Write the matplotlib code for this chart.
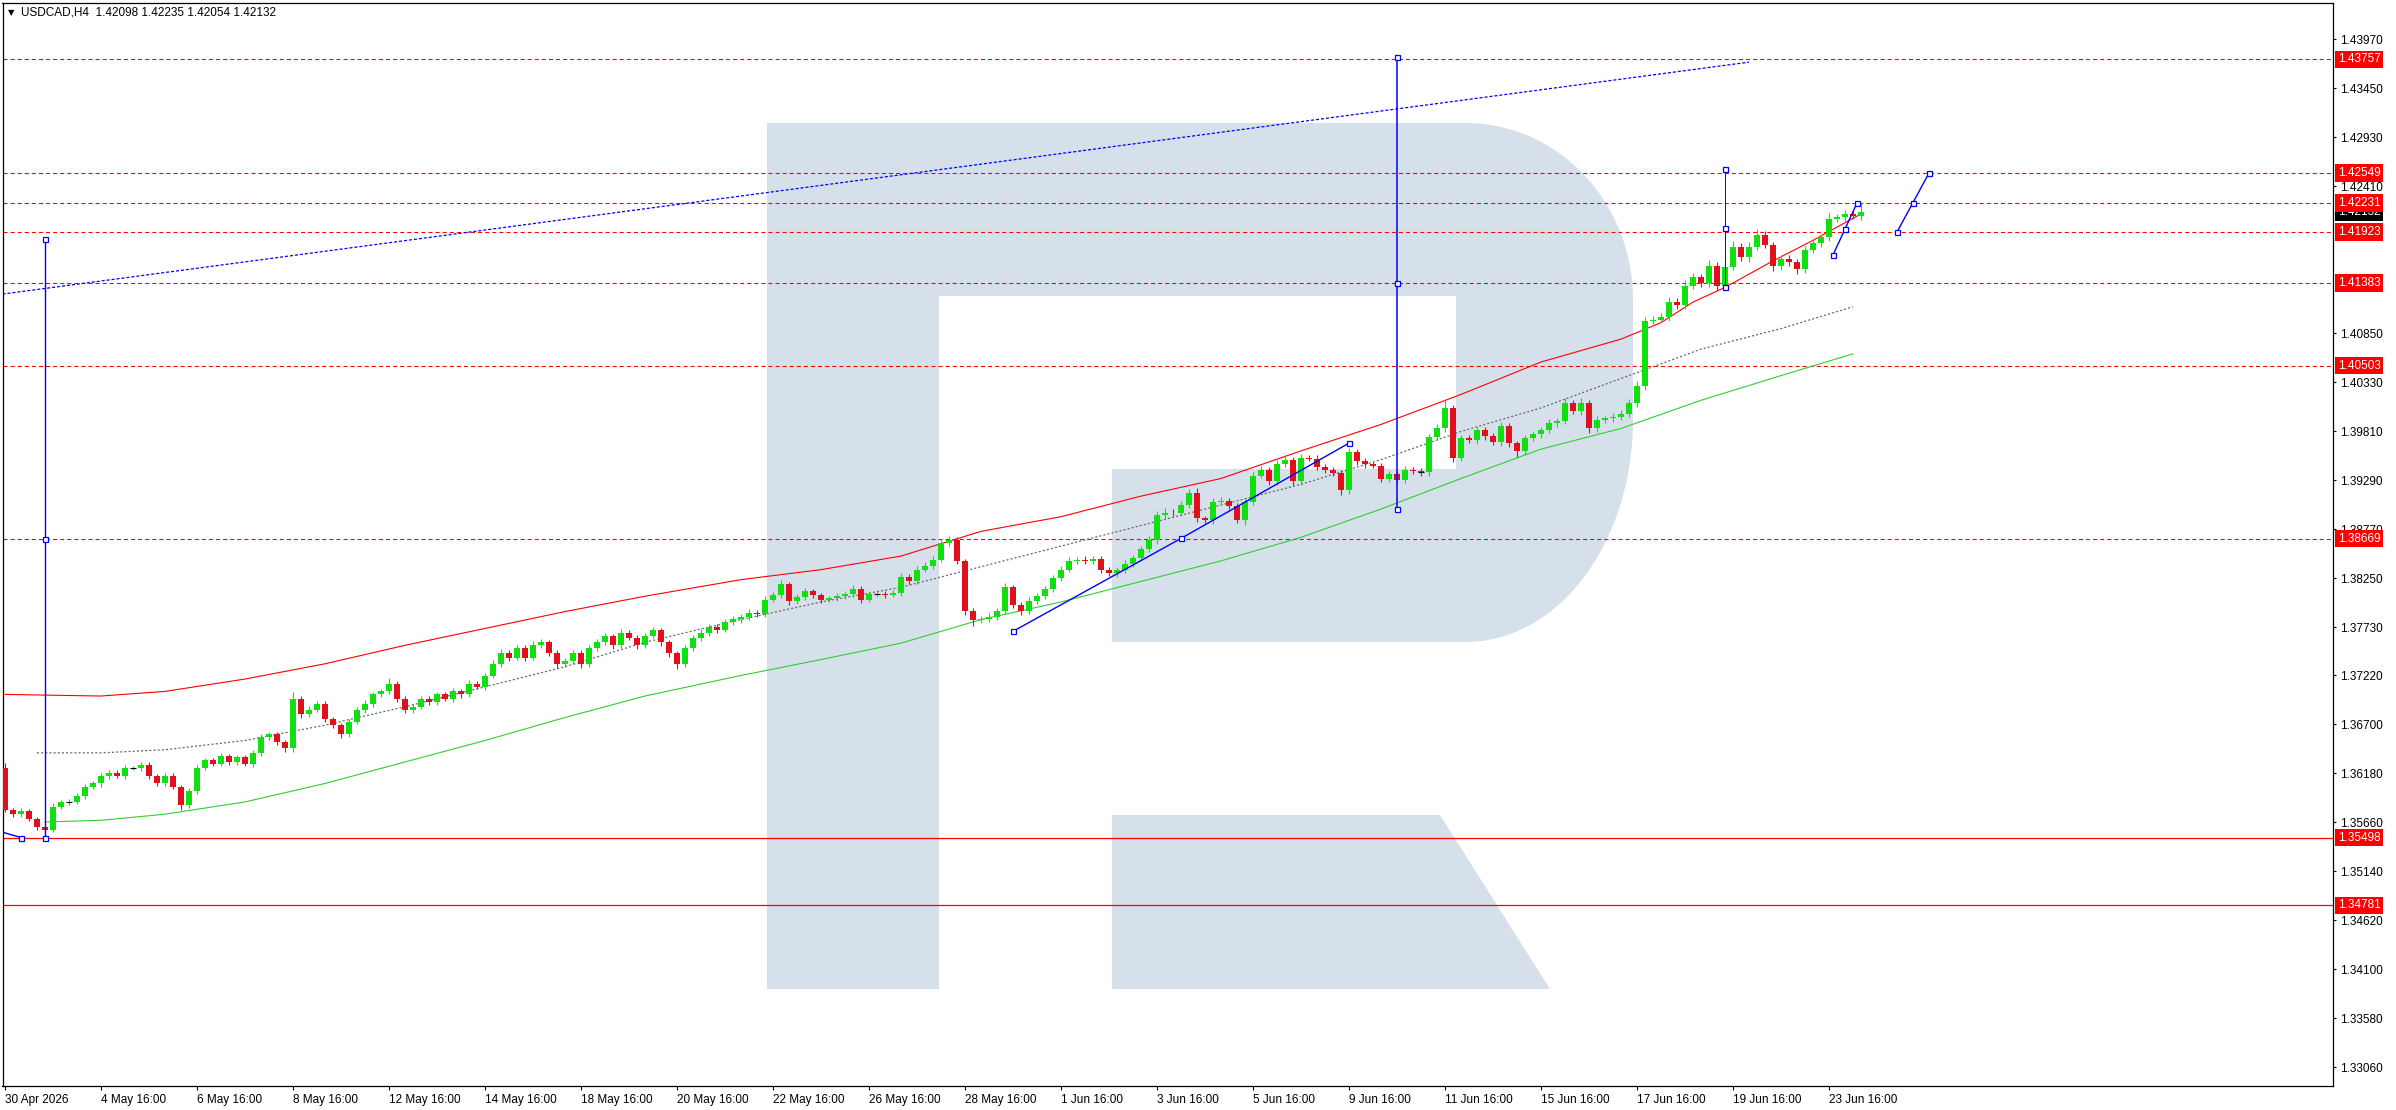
import numpy as np
import matplotlib
matplotlib.use("Agg")
import matplotlib.pyplot as plt
from matplotlib.patches import Polygon
from matplotlib import transforms

plt.rcParams['font.family'] = ['Liberation Sans', 'DejaVu Sans']
plt.rcParams['lines.scale_dashes'] = False

# ---- data (H4 bars, index 0 = 30 Apr 16:00) ----
symbol = "USDCAD,H4"
last_ohlc = "1.42098 1.42235 1.42054 1.42132"

first_open = 1.36235
closes = [
    1.35795, 1.35746, 1.35778, 1.35697, 1.35615, 1.35583, 1.35827, 1.35876, 1.35876, 1.35941,
    1.36039, 1.36072, 1.36153, 1.36186, 1.36153, 1.36235, 1.36235, 1.36267, 1.36153, 1.36072,
    1.36153, 1.36039, 1.35844, 1.35990, 1.36235, 1.36316, 1.36283, 1.36365, 1.36300, 1.36349,
    1.36283, 1.36397, 1.36560, 1.36593, 1.36512, 1.36446, 1.36968, 1.36805, 1.36854, 1.36919,
    1.36756, 1.36691, 1.36593, 1.36723, 1.36854, 1.36919, 1.37017, 1.37049, 1.37131, 1.36968,
    1.36854, 1.36886, 1.36968, 1.36935, 1.37017, 1.36968, 1.37049, 1.37017, 1.37131, 1.37098,
    1.37212, 1.37342, 1.37456, 1.37408, 1.37505, 1.37408, 1.37538, 1.37570, 1.37456, 1.37342,
    1.37375, 1.37456, 1.37342, 1.37505, 1.37570, 1.37636, 1.37538, 1.37668, 1.37619, 1.37538,
    1.37636, 1.37701, 1.37570, 1.37456, 1.37342, 1.37505, 1.37619, 1.37668, 1.37733, 1.37701,
    1.37782, 1.37815, 1.37842, 1.37886, 1.37873, 1.38023, 1.38073, 1.38185, 1.38011, 1.38048,
    1.38110, 1.38073, 1.38023, 1.38035, 1.38060, 1.38085, 1.38135, 1.38023, 1.38085, 1.38085,
    1.38073, 1.38092, 1.38260, 1.38216, 1.38341, 1.38385, 1.38447, 1.38622, 1.38653, 1.38434,
    1.37904, 1.37811, 1.37815, 1.37842, 1.37904, 1.38154, 1.37967, 1.37904, 1.38011, 1.38060,
    1.38135, 1.38248, 1.38341, 1.38434, 1.38447, 1.38434, 1.38453, 1.38341, 1.38310, 1.38341,
    1.38404, 1.38466, 1.38560, 1.38653, 1.38921, 1.38946, 1.38940, 1.39027, 1.39152, 1.38884,
    1.38872, 1.39059, 1.39071, 1.39021, 1.38872, 1.39059, 1.39339, 1.39402, 1.39277, 1.39464,
    1.39508, 1.39277, 1.39527, 1.39520, 1.39433, 1.39402, 1.39371, 1.39183, 1.39589, 1.39495,
    1.39458, 1.39446, 1.39308, 1.39358, 1.39296, 1.39402, 1.39383, 1.39380, 1.39745, 1.39839,
    1.40057, 1.39527, 1.39733, 1.39714, 1.39820, 1.39757, 1.39695, 1.39870, 1.39683, 1.39595,
    1.39733, 1.39776, 1.39820, 1.39895, 1.39920, 1.40107, 1.40020, 1.40113, 1.39839, 1.39932,
    1.39945, 1.39963, 1.39995, 1.40107, 1.40294, 1.40980, 1.40993, 1.41024, 1.41180, 1.41149,
    1.41355, 1.41442, 1.41380, 1.41567, 1.41355, 1.41554, 1.41766, 1.41654, 1.41766, 1.41891,
    1.41791, 1.41567, 1.41642, 1.41604, 1.41529, 1.41729, 1.41804, 1.41866, 1.42066, 1.42078,
    1.42110, 1.42098, 1.42132,
]
# wick lengths in points (0.00001)
upper_wick = [
    50, 20, 30, 25, 20, 30, 35, 25, 30, 25,
    30, 25, 35, 30, 25, 30, 25, 35, 30, 20,
    30, 25, 20, 30, 35, 25, 30, 35, 25, 30,
    25, 30, 35, 25, 30, 20, 70, 30, 35, 30,
    25, 20, 25, 30, 30, 35, 25, 30, 60, 25,
    30, 25, 30, 35, 25, 30, 35, 25, 40, 30,
    35, 40, 45, 30, 40, 35, 50, 30, 25, 30,
    25, 35, 30, 40, 35, 30, 25, 40, 30, 25,
    35, 30, 25, 20, 25, 35, 30, 40, 35, 30,
    35, 30, 30, 35, 30, 40, 35, 50, 25, 30,
    35, 30, 25, 30, 35, 30, 40, 35, 30, 25,
    30, 30, 45, 30, 35, 40, 35, 45, 40, 35,
    20, 25, 30, 35, 30, 45, 25, 30, 35, 30,
    35, 40, 35, 40, 30, 35, 30, 35, 25, 30,
    35, 30, 35, 40, 45, 50, 35, 40, 45, 60,
    30, 40, 45, 35, 30, 35, 40, 35, 30, 40,
    45, 30, 40, 35, 40, 30, 25, 30, 45, 30,
    30, 25, 30, 35, 30, 40, 30, 35, 40, 45,
    90, 30, 35, 40, 35, 30, 35, 40, 30, 25,
    35, 30, 35, 40, 35, 60, 30, 45, 25, 35,
    30, 35, 40, 45, 50, 40, 35, 45, 50, 40,
    60, 45, 35, 60, 40, 50, 65, 40, 55, 60,
    45, 30, 40, 35, 30, 45, 50, 40, 55, 40,
    45, 40, 103,
]
lower_wick = [
    30, 25, 30, 25, 35, 80, 30, 25, 30, 25,
    30, 25, 35, 30, 25, 30, 25, 30, 35, 30,
    25, 30, 50, 35, 30, 25, 30, 25, 35, 30,
    30, 35, 30, 25, 30, 35, 40, 35, 30, 25,
    30, 35, 40, 30, 25, 30, 35, 25, 30, 35,
    35, 30, 25, 30, 35, 25, 30, 35, 30, 25,
    30, 25, 30, 35, 30, 40, 25, 30, 35, 40,
    30, 35, 40, 30, 25, 30, 35, 30, 25, 35,
    30, 25, 35, 40, 60, 30, 25, 30, 35, 30,
    25, 30, 35, 30, 35, 30, 25, 30, 40, 30,
    30, 35, 40, 30, 25, 30, 35, 40, 30, 35,
    30, 25, 35, 30, 25, 30, 35, 30, 25, 30,
    45, 70, 35, 30, 40, 35, 30, 45, 30, 35,
    30, 35, 30, 25, 30, 35, 30, 35, 40, 45,
    35, 30, 25, 30, 35, 40, 30, 35, 30, 35,
    40, 45, 30, 35, 40, 60, 35, 30, 40, 35,
    30, 40, 35, 30, 35, 40, 35, 50, 35, 40,
    35, 30, 40, 35, 30, 35, 30, 40, 45, 30,
    35, 40, 35, 30, 35, 40, 35, 40, 45, 60,
    35, 30, 35, 30, 40, 35, 30, 40, 50, 35,
    30, 35, 30, 35, 40, 45, 30, 35, 40, 45,
    40, 35, 45, 40, 50, 45, 35, 40, 45, 35,
    40, 60, 45, 40, 50, 35, 30, 40, 35, 40,
    35, 40, 44,
]

# envelope lines (bar index, price)
upper_band_k = [0, 12, 20, 30, 40, 50, 60, 70, 80, 92, 102, 112, 122, 132, 142, 152, 162,
                172, 182, 192, 202, 207, 211, 215, 221, 226, 232]
upper_band = [1.37017, 1.37000, 1.37049, 1.37180, 1.37342, 1.37538, 1.37717, 1.37896, 1.38059,
              1.38235, 1.38341, 1.38485, 1.38747, 1.38903, 1.39121, 1.39308, 1.39601, 1.39882,
              1.40200, 1.40544, 1.40787, 1.40962, 1.41180, 1.41336, 1.41617, 1.41835, 1.42116]
mid_band_k = [4, 12, 20, 30, 40, 50, 60, 70, 80, 92, 102, 112, 122, 132, 142, 152, 162, 172,
              182, 192, 202, 212, 222, 231]
mid_band = [1.36397, 1.36397, 1.36430, 1.36528, 1.36691, 1.36886, 1.37098, 1.37310, 1.37570,
            1.37811, 1.37998, 1.38154, 1.38372, 1.38591, 1.38809, 1.39027, 1.39246, 1.39508,
            1.39807, 1.40057, 1.40369, 1.40681, 1.40899, 1.41130]
lower_band_k = [5, 12, 20, 30, 40, 50, 60, 70, 80, 92, 102, 112, 122, 132, 142, 152, 162, 172,
                182, 192, 202, 212, 222, 231]
lower_band = [1.35664, 1.35681, 1.35746, 1.35876, 1.36072, 1.36300, 1.36528, 1.36772, 1.37000,
              1.37218, 1.37387, 1.37561, 1.37811, 1.37998, 1.38216, 1.38434, 1.38684, 1.38984,
              1.39308, 1.39620, 1.39839, 1.40138, 1.40400, 1.40631]

# horizontal levels
dashed_levels = [1.43757, 1.42549, 1.42231, 1.41923, 1.41383, 1.40503, 1.38669]
solid_levels = [1.35498, 1.34781]
current_price = 1.42132

# blue drawings
trend_k = [-0.3, 218]
trend_p = [1.41265, 1.43726]
proj_k = [5, 174, 215]
proj_levels = [[1.41845, 1.38669, 1.35498],
               [1.43786, 1.41383, 1.38980],
               [1.42596, 1.41966, 1.41336]]
lead_k = [-0.5, 2]
lead_p = [1.35560, 1.35498]
wave_k = [126, 147, 168]
wave_p = [1.37686, 1.38672, 1.39683]
fc1_k = [228.5, 230, 231.5]
fc1_p = [1.41679, 1.41955, 1.42231]
fc2_k = [236.5, 238.5, 240.5]
fc2_p = [1.41923, 1.42236, 1.42549]

ytick_vals = [1.43970, 1.43450, 1.42930, 1.42410, 1.40850, 1.40330, 1.39810, 1.39290,
              1.38770, 1.38250, 1.37730, 1.37220, 1.36700, 1.36180, 1.35660, 1.35140,
              1.34620, 1.34100, 1.33580, 1.33060]
date_bars = [0, 12, 24, 36, 48, 60, 72, 84, 96, 108, 120, 132, 144, 156, 168, 180, 192, 204, 216, 228]
date_labels = ["30 Apr 2026", "4 May 16:00", "6 May 16:00", "8 May 16:00", "12 May 16:00",
               "14 May 16:00", "18 May 16:00", "20 May 16:00", "22 May 16:00", "26 May 16:00",
               "28 May 16:00", "1 Jun 16:00", "3 Jun 16:00", "5 Jun 16:00", "9 Jun 16:00",
               "11 Jun 16:00", "15 Jun 16:00", "17 Jun 16:00", "19 Jun 16:00", "23 Jun 16:00"]

W, H = 2396, 1110
fig = plt.figure(figsize=(W / 100, H / 100), dpi=100, facecolor='white')

# watermark "R" behind the chart, in pixel coords
bg = fig.add_axes([0, 0, 1, 1])
bg.set_xlim(0, W)
bg.set_ylim(H, 0)
bg.axis('off')
bg.set_zorder(0)
wm = '#d5e0eb'
t1 = np.linspace(np.pi / 2, 0, 30)
arc1 = np.c_[1466 + 167 * np.cos(t1), 300 - 177 * np.sin(t1)]
t2 = np.linspace(0, -np.pi / 2, 40)
arc2 = np.c_[1466 + 167 * np.cos(t2), 420 - 222 * np.sin(t2)]
outline = np.vstack([[[767, 123], [1466, 123]], arc1, arc2,
                     [[1112, 642], [1112, 469], [1456, 469], [1456, 296], [939, 296],
                      [939, 989], [767, 989]]])
bg.add_patch(Polygon(outline, closed=True, fc=wm, ec='none'))
bg.add_patch(Polygon([[1112, 815], [1440, 815], [1550, 989], [1112, 989]],
                     closed=True, fc=wm, ec='none'))

ax = fig.add_axes([2.5 / W, 24 / H, (2333 - 2.5) / W, (1086 - 2.5) / H])
ax.set_zorder(1)
ax.set_facecolor('none')

# candles
c = np.array(closes)
o = np.array([first_open] + closes[:-1])
hi = np.maximum(o, c) + np.array(upper_wick) * 1e-5
lo = np.minimum(o, c) - np.array(lower_wick) * 1e-5
idx = np.arange(len(c))
cols = np.where(c >= o, '#10e010', '#e0101c')
ax.vlines(idx, lo, hi, colors=cols, lw=0.8, zorder=4)
ax.bar(idx, np.abs(c - o), bottom=np.minimum(o, c), width=0.65, color=cols, lw=0, zorder=5)
doji = np.abs(c - o) < 3e-5
ax.hlines(c[doji], idx[doji] - 0.33, idx[doji] + 0.33, colors='black', lw=0.8, zorder=5)

# envelopes
ax.plot(upper_band_k, upper_band, color='#ff0000', lw=0.8, zorder=3)
ax.plot(mid_band_k, mid_band, color='#6a6a6a', lw=0.9, ls=(0, (1.5, 1.5)), zorder=3)
ax.plot(lower_band_k, lower_band, color='#32cd32', lw=0.8, zorder=3)

# levels
for lv in dashed_levels:
    ax.axhline(lv, color='#ff0000', lw=0.8, ls=(0, (2.9, 2.2)), zorder=2)
for lv in solid_levels:
    ax.axhline(lv, color='#ff0000', lw=0.9, zorder=2)

# blue drawings
blue = '#0000ff'
ax.plot(trend_k, trend_p, color=blue, lw=0.9, ls=(0, (2.2, 1.4)), zorder=3)
for k, lv, w in zip(proj_k, proj_levels, [1.0, 1.1, 0.7]):
    ax.vlines(k, min(lv), max(lv), color=blue, lw=w, zorder=6)
    ax.plot([k] * 3, lv, 's', ms=3.6, mfc='white', mec=blue, mew=0.9, zorder=7)
ax.plot(lead_k, lead_p, color=blue, lw=1.0, zorder=6)
ax.plot(lead_k[1:], lead_p[1:], 's', ms=3.6, mfc='white', mec=blue, mew=0.9, zorder=7)
for kk, pp in [(wave_k, wave_p), (fc1_k, fc1_p), (fc2_k, fc2_p)]:
    ax.plot(kk, pp, color=blue, lw=1.0, marker='s', ms=3.6, mfc='white', mec=blue,
            mew=0.9, zorder=6)

ax.set_xlim(-0.3, 291.0)
ax.set_ylim(1.32862, 1.44359)

# axes styling
for s in ax.spines.values():
    s.set_color('black')
    s.set_linewidth(0.9)
ax.yaxis.tick_right()
ax.set_yticks(ytick_vals)
ax.set_yticklabels(['%.5f' % v for v in ytick_vals])
ax.tick_params(axis='y', direction='out', length=2.5, width=0.8, pad=2.5, labelsize=8.5,
               colors='black')
ax.set_xticks(date_bars)
ax.set_xticklabels(date_labels, ha='left')
ax.tick_params(axis='x', direction='out', length=3, width=0.8, pad=2.5, labelsize=8.5)

# price labels on the axis
lab_tr = transforms.offset_copy(transforms.blended_transform_factory(ax.transAxes, ax.transData),
                                fig=fig, x=5, y=0, units='dots')
ax.text(1.0, current_price, '%.5f' % current_price, transform=lab_tr, color='white',
        fontsize=8.5, va='center', ha='left', clip_on=False, zorder=8,
        bbox=dict(boxstyle='square,pad=0.22', fc='black', ec='none'))
for lv in dashed_levels + solid_levels:
    ax.text(1.0, lv, '%.5f' % lv, transform=lab_tr, color='white', fontsize=8.5,
            va='center', ha='left', clip_on=False, zorder=9,
            bbox=dict(boxstyle='square,pad=0.22', fc='#ff0000', ec='none'))

# header
fig.text(11 / W, 1 - 12.5 / H, '\u25bc', fontsize=6, family='DejaVu Sans',
         ha='center', va='center')
fig.text(21 / W, 1 - 12.7 / H, symbol + '  ' + last_ohlc, fontsize=8.5,
         ha='left', va='center')

fig.savefig('out.png', dpi=100, facecolor='white')
